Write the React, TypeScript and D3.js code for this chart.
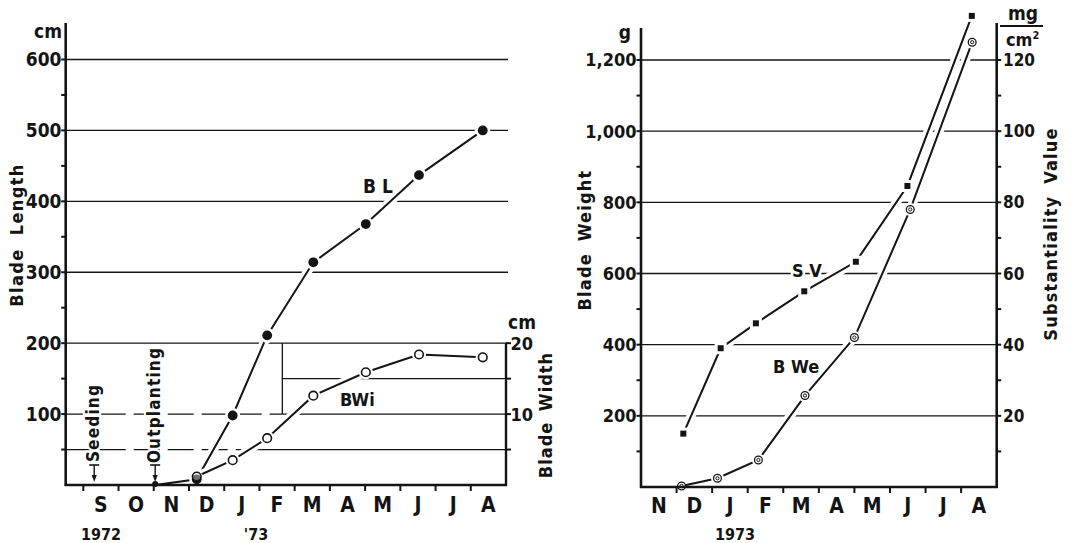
import React from 'react';
import * as d3 from 'd3';

// month positions are counted in months from 1 Sep 1972
const leftMonthLabels = ['S', 'O', 'N', 'D', 'J', 'F', 'M', 'A', 'M', 'J', 'J', 'A'];
const rightMonthLabels = ['N', 'D', 'J', 'F', 'M', 'A', 'M', 'J', 'J', 'A'];

const leftSampleMonths = [2.04, 3.22, 4.24, 5.22, 6.53, 8.02, 9.53, 11.34];
const bladeLength = [0, 8, 98, 211, 314, 368, 437, 500]; // cm
const bladeWidth: (number | null)[] = [null, 1.2, 3.5, 6.6, 12.6, 15.9, 18.4, 18.0]; // cm

const svMonths = [3.19, 4.24, 5.23, 6.59, 8.04, 9.49, 11.3];
const substantiality = [15, 39, 46, 55, 63.3, 84.6, 132.4]; // mg/cm2
const bweMonths = [3.14, 4.15, 5.3, 6.61, 8.0, 9.57, 11.31];
const bladeWeight = [3, 24.5, 76, 257, 420, 780, 1250]; // g

const lengthTicks = [100, 200, 300, 400, 500, 600];
const lengthMinor = [50, 150, 250, 350, 450, 550];
const widthTicks = [10, 20];
const widthMinor = [5, 15];
const weightTicks = [200, 400, 600, 800, 1000, 1200];
const weightMinor = [100, 300, 500, 700, 900, 1100];
const svTicks = [20, 40, 60, 80, 100, 120];
const svMinor = [10, 30, 50, 70, 90, 110];
const weightTickLabels = ['200', '400', '600', '800', '1,000', '1,200'];

const FONT = "'DejaVu Sans Condensed', 'DejaVu Sans', sans-serif";
const INK = '#141414';

export default function App() {
  // left panel scales
  const xL = d3.scaleLinear().domain([-0.5, 12]).range([65.7, 506]);
  const yL = d3.scaleLinear().domain([0, 600]).range([485, 59.5]);
  const yW = d3.scaleLinear().domain([0, 20]).range([485, yL(200)]);
  // right panel scales
  const xR = d3.scaleLinear().domain([2, 12]).range([641, 996.7]);
  const yR = d3.scaleLinear().domain([0, 1200]).range([487, 60]);
  const yS = d3.scaleLinear().domain([0, 120]).range([487, 60]);

  const blPts: [number, number][] = leftSampleMonths.map((m, i) => [xL(m), yL(bladeLength[i])]);
  const bwPts: [number, number][] = leftSampleMonths
    .map((m, i) => (bladeWidth[i] == null ? null : [xL(m), yW(bladeWidth[i] as number)]))
    .filter((d) => d != null) as [number, number][];
  const svPts: [number, number][] = svMonths.map((m, i) => [xR(m), yS(substantiality[i])]);
  const bwePts: [number, number][] = bweMonths.map((m, i) => [xR(m), yR(bladeWeight[i])]);

  const line = d3.line<[number, number]>().x((d) => d[0]).y((d) => d[1]);

  const gridStroke = 1.3;
  const splitX = xL(5.65);
  const split50 = xL(5);

  const dataLine = (pts: [number, number][], key: string) => (
    <g key={key}>
      <path d={line(pts) || ''} fill="none" stroke="#fff" strokeWidth={9} />
      <path d={line(pts) || ''} fill="none" stroke={INK} strokeWidth={2} />
    </g>
  );

  const textStyle = { fontFamily: FONT, fontWeight: 700 as const, fill: INK };

  return (
    <svg
      width={1077}
      height={543}
      viewBox="0 0 1077 543"
      style={{ position: 'absolute', left: 0, top: 0, background: '#fff' }}
    >
      <rect x={0} y={0} width={1077} height={543} fill="#fff" />

      {/* ---------- LEFT PANEL ---------- */}
      {lengthTicks.filter((t) => t >= 200).map((t) => (
        <line key={'lg' + t} x1={xL(-0.5)} x2={508} y1={yL(t)} y2={yL(t)} stroke={INK} strokeWidth={gridStroke} />
      ))}
      <line x1={xL(-0.5)} x2={splitX} y1={yL(100)} y2={yL(100)} stroke={INK} strokeWidth={gridStroke} strokeDasharray="26 8" />
      <line x1={xL(-0.5)} x2={split50} y1={yL(50)} y2={yL(50)} stroke={INK} strokeWidth={gridStroke} strokeDasharray="26 8" />
      {[5, 10, 15].map((t) => (
        <line
          key={'wg' + t}
          x1={t === 5 ? split50 : splitX}
          x2={506}
          y1={yW(t)}
          y2={yW(t)}
          stroke={INK}
          strokeWidth={gridStroke}
        />
      ))}
      <line x1={splitX} x2={splitX} y1={yL(200)} y2={yL(100)} stroke={INK} strokeWidth={gridStroke} />

      {dataLine(blPts, 'bl')}
      {dataLine(bwPts, 'bw')}

      {blPts.map((p, i) =>
        i === 0 ? (
          <circle key={'blm' + i} cx={p[0]} cy={p[1] - 1} r={3} fill={INK} />
        ) : (
          <g key={'blm' + i}>
            <circle cx={p[0]} cy={p[1]} r={7.5} fill="#fff" />
            <circle cx={p[0]} cy={p[1]} r={4.9} fill={INK} />
          </g>
        )
      )}
      {bwPts.map((p, i) => (
        <g key={'bwm' + i}>
          {i > 0 && <circle cx={p[0]} cy={p[1]} r={7} fill="#fff" />}
          <circle cx={p[0]} cy={p[1]} r={4.3} fill="#fff" fillOpacity={i === 0 ? 0.4 : 1} stroke={INK} strokeWidth={1.6} />
        </g>
      ))}

      <line x1={xL(-0.5)} x2={xL(-0.5)} y1={23} y2={486} stroke={INK} strokeWidth={2.6} />
      <line x1={xL(-0.5) - 1} x2={507} y1={485} y2={485} stroke={INK} strokeWidth={2.6} />
      <line x1={506} x2={506} y1={yL(200)} y2={486} stroke={INK} strokeWidth={2.4} />
      {lengthTicks.concat(lengthMinor).map((t) => (
        <line key={'lt' + t} x1={xL(-0.5) - 4.5} x2={xL(-0.5)} y1={yL(t)} y2={yL(t)} stroke={INK} strokeWidth={2} />
      ))}
      {widthTicks.concat(widthMinor).map((t) => (
        <line key={'wt' + t} x1={506} x2={511} y1={yW(t)} y2={yW(t)} stroke={INK} strokeWidth={2} />
      ))}
      {d3.range(0, 12).map((m) => (
        <line key={'xt' + m} x1={xL(m)} x2={xL(m)} y1={485} y2={491} stroke={INK} strokeWidth={2} />
      ))}

      {lengthTicks.map((t) => (
        <text key={'ll' + t} x={61.5} y={yL(t)} dy="0.36em" textAnchor="end" fontSize={19} {...textStyle}>
          {t}
        </text>
      ))}
      <text x={62} y={38} textAnchor="end" fontSize={19} {...textStyle}>cm</text>
      {widthTicks.map((t) => (
        <text key={'wl' + t} x={510.5} y={yW(t)} dy="0.36em" fontSize={18} {...textStyle}>
          {t}
        </text>
      ))}
      <text x={508} y={329} fontSize={19} {...textStyle}>cm</text>
      {leftMonthLabels.map((m, i) => (
        <text key={'lm' + i} x={xL(i + 0.5)} y={512} textAnchor="middle" fontSize={21} {...textStyle}>
          {m}
        </text>
      ))}
      <text x={101} y={540} textAnchor="middle" fontSize={16} {...textStyle}>1972</text>
      <text x={256} y={540} textAnchor="middle" fontSize={16} {...textStyle}>'73</text>

      <text transform="translate(23,235) rotate(-90)" textAnchor="middle" fontSize={18} letterSpacing={1.4} wordSpacing={6} {...textStyle}>
        Blade Length
      </text>
      <text transform="translate(552,415) rotate(-90)" textAnchor="middle" fontSize={18} letterSpacing={1} wordSpacing={4} {...textStyle}>
        Blade Width
      </text>

      <text x={363} y={193} fontSize={19} {...textStyle}>B L</text>
      <text x={340} y={406} fontSize={18} {...textStyle}>BWi</text>

      <text transform="translate(99,423) rotate(-90)" textAnchor="middle" fontSize={17} letterSpacing={1.2} {...textStyle}
        stroke="#fff" strokeWidth={4} paintOrder="stroke">
        Seeding
      </text>
      <text transform="translate(160,405) rotate(-90)" textAnchor="middle" fontSize={17} letterSpacing={1.2} {...textStyle}
        stroke="#fff" strokeWidth={4} paintOrder="stroke">
        Outplanting
      </text>
      {[0.31, 2.04].map((m) => (
        <g key={'arr' + m}>
          <line x1={xL(m) - 5} x2={xL(m) + 5} y1={465} y2={465} stroke={INK} strokeWidth={1.6} />
          <line x1={xL(m)} x2={xL(m)} y1={465} y2={478} stroke={INK} strokeWidth={1.4} />
          <path d={`M${xL(m) - 2.6},${475} L${xL(m) + 2.6},${475} L${xL(m)},${482} Z`} fill={INK} />
        </g>
      ))}

      {/* ---------- RIGHT PANEL ---------- */}
      {weightTicks.map((t) => (
        <line key={'rg' + t} x1={xR(2)} x2={xR(12)} y1={yR(t)} y2={yR(t)} stroke={INK} strokeWidth={gridStroke} />
      ))}

      {dataLine(svPts, 'sv')}
      {dataLine(bwePts, 'bwe')}

      {svPts.map((p, i) => (
        <g key={'svm' + i}>
          <rect x={p[0] - 6} y={p[1] - 6} width={12} height={12} fill="#fff" />
          <rect x={p[0] - 3} y={p[1] - 3} width={6} height={6} fill={INK} />
        </g>
      ))}
      {bwePts.map((p, i) => (
        <g key={'bwem' + i}>
          {i > 0 && <circle cx={p[0]} cy={p[1]} r={6.5} fill="#fff" />}
          <circle cx={p[0]} cy={p[1]} r={3.9} fill="#fff" stroke={INK} strokeWidth={1.3} />
          <circle cx={p[0]} cy={p[1]} r={1.6} fill="none" stroke={INK} strokeWidth={1} />
        </g>
      ))}

      <line x1={xR(2)} x2={xR(2)} y1={28} y2={488} stroke={INK} strokeWidth={2.6} />
      <line x1={xR(12)} x2={xR(12)} y1={23} y2={488} stroke={INK} strokeWidth={2.6} />
      <line x1={xR(2) - 1} x2={xR(12) + 1} y1={487} y2={487} stroke={INK} strokeWidth={2.6} />
      {weightTicks.concat(weightMinor).map((t) => (
        <line key={'rt' + t} x1={xR(2) - 4.5} x2={xR(2)} y1={yR(t)} y2={yR(t)} stroke={INK} strokeWidth={2} />
      ))}
      {svTicks.concat(svMinor).map((t) => (
        <line key={'st' + t} x1={xR(12)} x2={xR(12) + 4.5} y1={yS(t)} y2={yS(t)} stroke={INK} strokeWidth={2} />
      ))}
      {d3.range(3, 12).map((m) => (
        <line key={'rxt' + m} x1={xR(m)} x2={xR(m)} y1={487} y2={493} stroke={INK} strokeWidth={2} />
      ))}

      {weightTicks.map((t, i) => (
        <text key={'wtl' + t} x={636.5} y={yR(t)} dy="0.36em" textAnchor="end" fontSize={18} {...textStyle}>
          {weightTickLabels[i]}
        </text>
      ))}
      <text x={631} y={39} textAnchor="end" fontSize={19} {...textStyle}>g</text>
      {svTicks.map((t) => (
        <text key={'svl' + t} x={1003} y={yS(t)} dy="0.36em" fontSize={17} {...textStyle}>
          {t}
        </text>
      ))}
      <text x={1023} y={20} textAnchor="middle" fontSize={19} {...textStyle}>mg</text>
      <line x1={1000} x2={1043} y1={26} y2={26} stroke={INK} strokeWidth={2} />
      <text x={1006} y={46} fontSize={18} {...textStyle}>
        cm<tspan fontSize={11} dy={-7}>2</tspan>
      </text>

      {rightMonthLabels.map((m, i) => (
        <text key={'rm' + i} x={xR(i + 2.5)} y={513} textAnchor="middle" fontSize={21} {...textStyle}>
          {m}
        </text>
      ))}
      <text x={735} y={540} textAnchor="middle" fontSize={16} {...textStyle}>1973</text>

      <text transform="translate(591,240) rotate(-90)" textAnchor="middle" fontSize={18} letterSpacing={1.2} wordSpacing={5} {...textStyle}>
        Blade Weight
      </text>
      <text transform="translate(1057,234) rotate(-90)" textAnchor="middle" fontSize={18} letterSpacing={1.2} wordSpacing={5} {...textStyle}>
        Substantiality Value
      </text>

      <text x={792} y={277} fontSize={18} {...textStyle} stroke="#fff" strokeWidth={5} paintOrder="stroke">S V</text>
      <text x={773} y={373} fontSize={18} {...textStyle} stroke="#fff" strokeWidth={4} paintOrder="stroke">B We</text>
    </svg>
  );
}
